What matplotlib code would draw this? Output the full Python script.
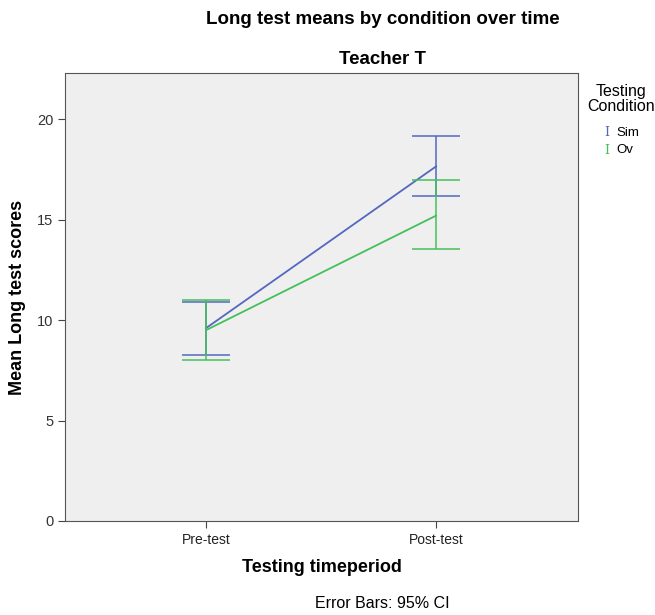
import matplotlib.pyplot as plt

# data
periods = ["Pre-test", "Post-test"]
conditions = ["Sim", "Ov"]
means = {"Sim": [9.6, 17.65], "Ov": [9.5, 15.2]}
ci_low = {"Sim": [8.25, 16.2], "Ov": [8.0, 13.55]}
ci_high = {"Sim": [10.9, 19.15], "Ov": [11.0, 16.95]}
colors = {"Sim": "#5566c0", "Ov": "#44c05a"}

plt.rcParams['font.family'] = ['Liberation Sans', 'DejaVu Sans']

fig = plt.figure(figsize=(6.55, 6.15), dpi=100)
ax = fig.add_axes([65 / 655, 1 - 521 / 615, 513 / 655, 448 / 615])
ax.set_facecolor("#efefef")

x = list(range(len(periods)))
for c in conditions:
    lo = [m - l for m, l in zip(means[c], ci_low[c])]
    hi = [h - m for m, h in zip(means[c], ci_high[c])]
    ax.plot(x, means[c], color=colors[c], lw=1.3)
    ax.errorbar(x, means[c], yerr=[lo, hi], fmt="none", ecolor=colors[c],
                elinewidth=1.1, capsize=17, capthick=1.1)

ax.set_xlim(-0.613, 1.617)
ax.set_ylim(0, 22.3)
ax.set_xticks(x)
ax.set_xticklabels(periods, fontsize=10)
ax.set_yticks([0, 5, 10, 15, 20])
ax.tick_params(axis="y", labelsize=10.5, length=5, color="#444444", labelcolor="#333333")
ax.tick_params(axis="x", length=5, color="#444444", labelcolor="#222222")
for s in ax.spines.values():
    s.set_color("#555555")

ax.set_xlabel("Testing timeperiod", fontsize=13, fontweight="bold")
ax.xaxis.set_label_coords((322 - 65) / 513, -(568 - 521) / 448)
ax.set_ylabel("Mean Long test scores", fontsize=13, fontweight="bold")
ax.yaxis.set_label_coords(-(65 - 18) / 513, 0.5)
ax.xaxis.label.set_va("center")
ax.yaxis.label.set_va("center")

fig.text(383 / 655, 1 - 20 / 615, "Long test means by condition over time",
         ha="center", va="center", fontsize=13.5, fontweight="bold")
fig.text(383 / 655, 1 - 60 / 615, "Teacher T",
         ha="center", va="center", fontsize=13.5, fontweight="bold")
fig.text(382 / 655, 1 - 603 / 615, "Error Bars: 95% CI",
         ha="center", va="center", fontsize=11.5)

# legend drawn as text, SPSS style
fig.text(621 / 655, 1 - 99 / 615, "Testing\nCondition", ha="center", va="center",
         fontsize=11.5, linespacing=1.0)
for i, c in enumerate(conditions):
    yy = 1 - (133 + i * 17) / 615
    fig.text(607 / 655, yy, "I", color=colors[c], ha="center", va="center",
             fontsize=9, family="DejaVu Serif")
    fig.text(616 / 655, yy, c, ha="left", va="center", fontsize=9.5)

fig.savefig("out.png", dpi=100)
